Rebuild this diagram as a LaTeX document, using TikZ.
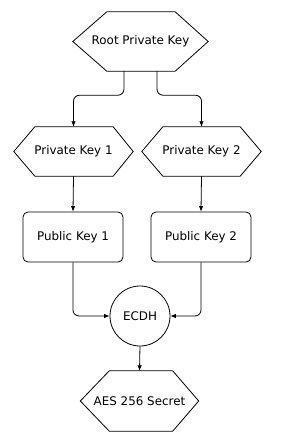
\documentclass[tikz,border=0pt]{standalone}
\usepackage{fontspec}
\setmainfont{DejaVu Sans}
\usetikzlibrary{arrows.meta}
\begin{document}
\begin{tikzpicture}[x=1pt,y=-1pt,
  every node/.style={font=\fontsize{11.9}{14}\selectfont, inner sep=0pt},
  hexbox/.style={minimum height=59pt},
  pubbox/.style={draw, rounded corners=5pt, minimum width=100pt, minimum height=50pt, line width=0.8pt},
  circbox/.style={draw, circle, minimum size=60pt, line width=0.8pt},
  conn/.style={line width=0.8pt, rounded corners=6pt, -{Latex[length=5.5pt,width=4.5pt]}},
  hexline/.style={line width=0.8pt}]
\useasboundingbox (0,0) rectangle (283,440);
\fill[white] (0,0) rectangle (283,440);

\node[hexbox, minimum width=135pt] (root) at (140.5,41.5) {Root Private Key};
\node[hexbox, minimum width=119pt, minimum height=49pt] (pk1) at (73.5,151.5) {Private Key 1};
\node[hexbox, minimum width=119pt, minimum height=49pt] (pk2) at (201.5,151.5) {Private Key 2};
\node[pubbox] (pub1) at (73,237) {Public Key 1};
\node[pubbox] (pub2) at (201,237) {Public Key 2};
\node[circbox] (ecdh) at (140,316) {ECDH};
\node[hexbox, minimum width=118pt, minimum height=60pt] (aes) at (139.5,401) {AES 256 Secret};

% hexagon outlines
\draw[hexline] (root.west) -- ([xshift=34pt]root.north west) -- ([xshift=-33pt]root.north east) -- (root.east) -- ([xshift=-33pt]root.south east) -- ([xshift=34pt]root.south west) -- cycle;
\draw[hexline] (pk1.west) -- ([xshift=21pt]pk1.north west) -- ([xshift=-20pt]pk1.north east) -- (pk1.east) -- ([xshift=-20pt]pk1.south east) -- ([xshift=21pt]pk1.south west) -- cycle;
\draw[hexline] (pk2.west) -- ([xshift=21pt]pk2.north west) -- ([xshift=-21pt]pk2.north east) -- (pk2.east) -- ([xshift=-21pt]pk2.south east) -- ([xshift=21pt]pk2.south west) -- cycle;
\draw[hexline] (aes.west) -- ([xshift=29pt]aes.north west) -- ([xshift=-26pt]aes.north east) -- (aes.east) -- ([xshift=-26pt]aes.south east) -- ([xshift=29pt]aes.south west) -- cycle;

% connectors
\draw[conn] ([xshift=-16.5pt]root.south) -- ++(0,24) -| (pk1.north);
\draw[conn] ([xshift=16.5pt]root.south) -- ++(0,24) -| (pk2.north);
\draw[conn] (pk1.south) -- (pub1.north);
\draw[conn] (pk2.south) -- (pub2.north);
\draw[conn] (pub1.south) |- (ecdh.west);
\draw[conn] (pub2.south) |- (ecdh.east);
\draw[conn] (ecdh.south) -- (aes.north);
\end{tikzpicture}
\end{document}
